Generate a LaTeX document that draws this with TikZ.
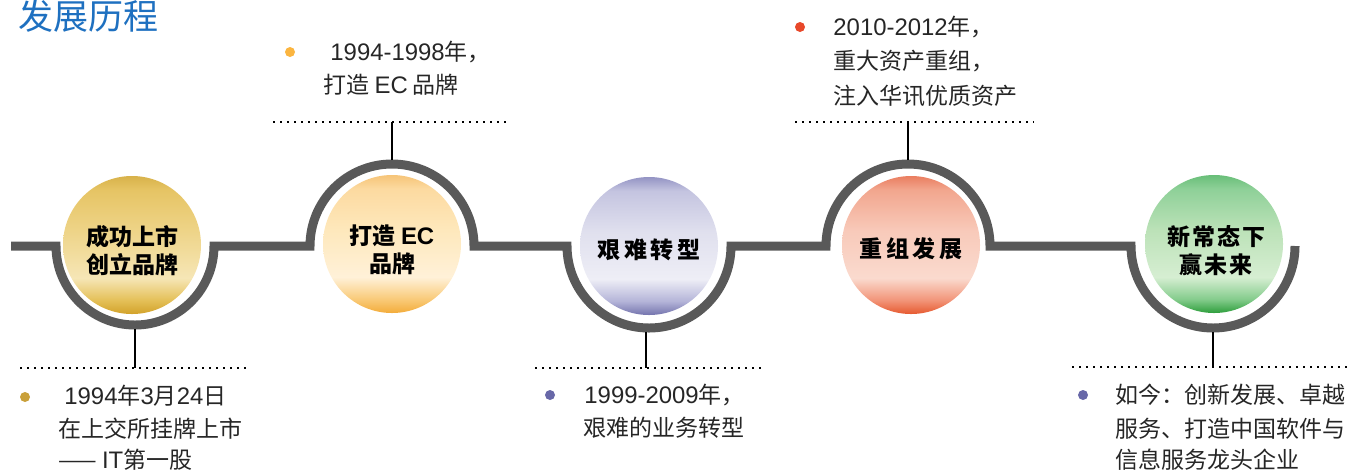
\documentclass[tikz,border=0pt]{standalone}
\usepackage{fontspec}
\setmainfont{Noto Sans CJK SC}
\newfontfamily\lat{Liberation Sans}[Scale=1.04]
\definecolor{trackc}{HTML}{595959}
\definecolor{titlec}{HTML}{1E70C0}
\definecolor{txtc}{HTML}{262626}
% gold
\definecolor{gA}{HTML}{D2A22A}\definecolor{gB}{HTML}{E4C058}\definecolor{gC}{HTML}{F6E6B6}
\definecolor{gD}{HTML}{EED488}\definecolor{gE}{HTML}{E6C464}\definecolor{gF}{HTML}{D8B24A}
% orange
\definecolor{oA}{HTML}{F3AC3A}\definecolor{oB}{HTML}{F9CA78}\definecolor{oC}{HTML}{FFF1D8}
\definecolor{oD}{HTML}{FEE8BC}\definecolor{oE}{HTML}{FCDAA0}\definecolor{oF}{HTML}{F6C478}
% lavender
\definecolor{lA}{HTML}{7474AE}\definecolor{lB}{HTML}{B4B4D8}\definecolor{lC}{HTML}{EEEEF6}
\definecolor{lD}{HTML}{E0E0EE}\definecolor{lE}{HTML}{C4C4E0}\definecolor{lF}{HTML}{9494C4}
% salmon
\definecolor{sA}{HTML}{E65A30}\definecolor{sB}{HTML}{F29478}\definecolor{sC}{HTML}{FADACE}
\definecolor{sD}{HTML}{F8CABA}\definecolor{sE}{HTML}{F2A68E}\definecolor{sF}{HTML}{EA7E60}
% green
\definecolor{nA}{HTML}{2E9E3C}\definecolor{nB}{HTML}{84CC8C}\definecolor{nC}{HTML}{D6EED2}
\definecolor{nD}{HTML}{BCE2B8}\definecolor{nE}{HTML}{8ED098}\definecolor{nF}{HTML}{68BE78}
\pgfdeclareverticalshading{ballgold}{100bp}{color(0bp)=(gA); color(25bp)=(gA); color(30bp)=(gB); color(38bp)=(gC); color(55bp)=(gD); color(70bp)=(gE); color(75bp)=(gF); color(100bp)=(gF)}
\pgfdeclareverticalshading{ballorange}{100bp}{color(0bp)=(oA); color(25bp)=(oA); color(30bp)=(oB); color(38bp)=(oC); color(55bp)=(oD); color(70bp)=(oE); color(75bp)=(oF); color(100bp)=(oF)}
\pgfdeclareverticalshading{balllav}{100bp}{color(0bp)=(lA); color(25bp)=(lA); color(30bp)=(lB); color(38bp)=(lC); color(55bp)=(lD); color(70bp)=(lE); color(75bp)=(lF); color(100bp)=(lF)}
\pgfdeclareverticalshading{ballsalmon}{100bp}{color(0bp)=(sA); color(25bp)=(sA); color(30bp)=(sB); color(38bp)=(sC); color(55bp)=(sD); color(70bp)=(sE); color(75bp)=(sF); color(100bp)=(sF)}
\pgfdeclareverticalshading{ballgreen}{100bp}{color(0bp)=(nA); color(25bp)=(nA); color(30bp)=(nB); color(38bp)=(nC); color(55bp)=(nD); color(70bp)=(nE); color(75bp)=(nF); color(100bp)=(nF)}
\begin{document}
\begin{tikzpicture}[x=0.5pt,y=-0.5pt,
  track/.style={draw=trackc, line width=4.5pt, line join=miter},
  conn/.style={draw=black, line width=1.3pt},
  dots/.style={draw=black, line width=1.3pt, dash pattern=on 1pt off 2.5pt},
  ball/.style={circle, minimum size=69pt, inner sep=0pt},
  balltext/.style={align=center, inner sep=0pt,
    font=\bfseries\fontsize{11.5}{14}\selectfont, text=black},
  txt/.style={anchor=west, inner sep=0pt, font=\fontsize{11.5}{14}\selectfont,
    text=txtc, text height=9.5pt, text depth=0.8pt},
  bullet/.style={circle, inner sep=0pt, minimum size=5pt}]
\useasboundingbox (0,0) rectangle (1352,473);
% title
\node[anchor=west, inner sep=0pt, text=titlec, font=\fontsize{17.5}{20}\selectfont,
  text height=14.5pt, text depth=1.2pt] (title) at (18,16) {发展历程};
% track
\draw[track] (11,246) -- (56,246) arc[start angle=180, end angle=0, radius=79]
  -- (310,246) arc[start angle=180, end angle=360, radius=82]
  -- (567,246) arc[start angle=180, end angle=0, radius=82]
  -- (826,246) arc[start angle=180, end angle=360, radius=82]
  -- (1131,246) arc[start angle=180, end angle=0, radius=82];
% balls
\node[ball, shading=ballgold] (c1) at (132,245) {};
\node[ball, shading=ballorange] (c2) at (392,244) {};
\node[ball, shading=balllav] (c3) at (649,246) {};
\node[ball, shading=ballsalmon] (c4) at (911,245) {};
\node[ball, shading=ballgreen] (c5) at (1214,244) {};
\node[balltext] (c1t) at (132,251) {成功上市\\创立品牌};
\node[balltext] (c2t) at (392,250) {打造 {\lat EC}\\品牌};
\node[balltext] (c3t) at (649,250) {艰\,难\,转\,型};
\node[balltext] (c4t) at (911,249) {重\,组\,发\,展};
\node[balltext] (c5t) at (1216,251) {新\kern1pt常\kern1pt态\kern1pt下\\赢\kern1pt未\kern1pt来};
% connector points
\coordinate (t1) at (135,329);
\coordinate (d1) at (135,368);
\coordinate (t2) at (392,160);
\coordinate (d2) at (392,122);
\coordinate (t3) at (646,332);
\coordinate (d3) at (646,368);
\coordinate (t4) at (908,160);
\coordinate (d4) at (908,122);
\coordinate (t5) at (1213,332);
\coordinate (d5) at (1213,367);
\draw[conn] (t1) -- (d1);
\draw[conn] (t2) -- (d2);
\draw[conn] (t3) -- (d3);
\draw[conn] (t4) -- (d4);
\draw[conn] (t5) -- (d5);
% dotted lines
\coordinate (l1a) at (20,368);   \coordinate (l1b) at (246,368);
\coordinate (l2a) at (273,122);  \coordinate (l2b) at (506,122);
\coordinate (l3a) at (535,368);  \coordinate (l3b) at (763,368);
\coordinate (l4a) at (795,122);  \coordinate (l4b) at (1034,122);
\coordinate (l5a) at (1072,367); \coordinate (l5b) at (1352,367);
\draw[dots] (l1a) -- (l1b);
\draw[dots] (l2a) -- (l2b);
\draw[dots] (l3a) -- (l3b);
\draw[dots] (l4a) -- (l4b);
\draw[dots] (l5a) -- (l5b);
% block 1
\node[bullet, fill={rgb,255:red,201;green,160;blue,58}] (p1) at (25,397) {};
\node[txt] (b1a) at (64,396) {{\lat 1994}年{\lat 3}月{\lat 24}日};
\node[txt] (b1b) at (58,429) {在上交所挂牌上市};
\node[txt] (b1c) at (58,460) {—— {\lat IT}第一股};
% block 2
\node[bullet, fill={rgb,255:red,251;green,181;blue,64}] (p2) at (290,52) {};
\node[txt] (b2a) at (330,52) {{\lat 1994-1998}年，};
\node[txt] (b2b) at (323,85) {打造 {\lat EC} 品牌};
% block 3
\node[bullet, fill={rgb,255:red,104;green,104;blue,168}] (p3) at (550,395) {};
\node[txt] (b3a) at (584,395) {{\lat 1999-2009}年，};
\node[txt] (b3b) at (583,428) {艰难的业务转型};
% block 4
\node[bullet, fill={rgb,255:red,232;green,72;blue,42}] (p4) at (800,27) {};
\node[txt] (b4a) at (833,27) {{\lat 2010-2012}年，};
\node[txt] (b4b) at (833,61) {重大资产重组，};
\node[txt] (b4c) at (833,96) {注入华讯优质资产};
% block 5
\node[bullet, fill={rgb,255:red,104;green,104;blue,168}] (p5) at (1083,395) {};
\node[txt] (b5a) at (1115,395) {如今：创新发展、卓越};
\node[txt] (b5b) at (1115,429) {服务、打造中国软件与};
\node[txt] (b5c) at (1115,460) {信息服务龙头企业};
\end{tikzpicture}
\end{document}
